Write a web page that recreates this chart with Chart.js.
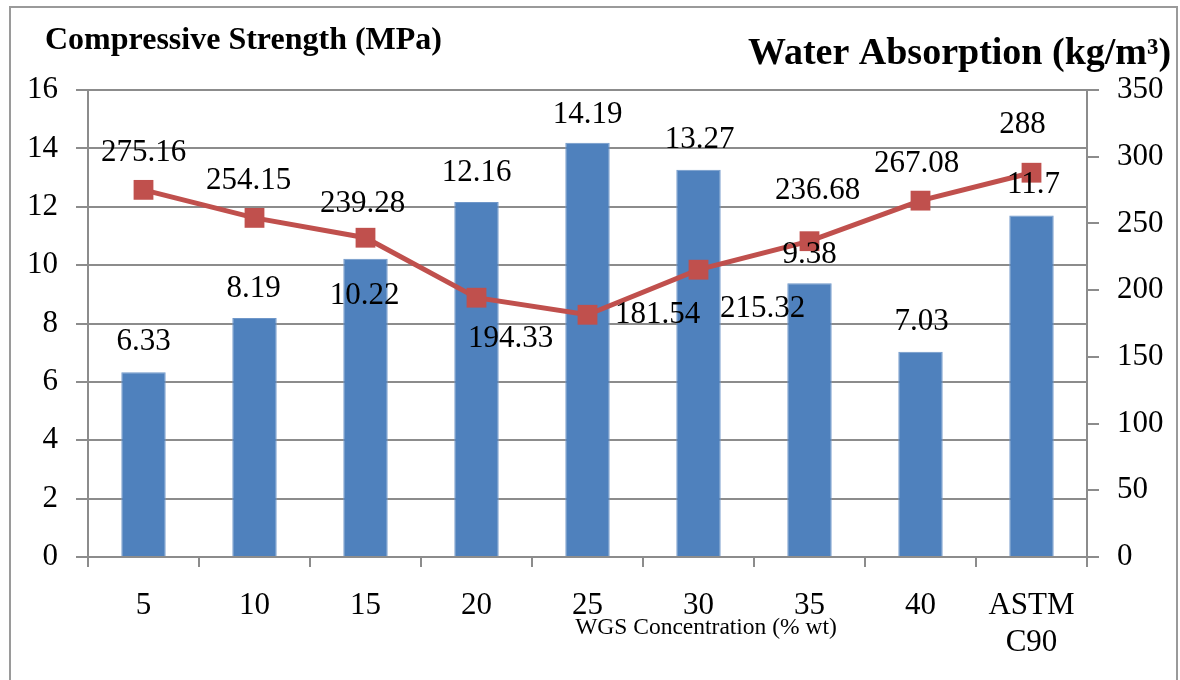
<!DOCTYPE html>
<html>
<head>
<meta charset="utf-8">
<script src="https://cdn.jsdelivr.net/npm/chart.js@4.4.1/dist/chart.umd.min.js"></script>
<style>
  html, body { margin: 0; padding: 0; background: #fff; }
  #wrap { width: 1180px; height: 680px; position: relative; }
</style>
</head>
<body>
<div id="wrap"><canvas id="grafico" width="1180" height="680"></canvas></div>
<script>
// datos
const categorias = ['5', '10', '15', '20', '25', '30', '35', '40', ['ASTM', 'C90']];
const resistencia = [6.33, 8.19, 10.22, 12.16, 14.19, 13.27, 9.38, 7.03, 11.7];
const absorcion = [275.16, 254.15, 239.28, 194.33, 181.54, 215.32, 236.68, 267.08, 288];
const ticksIzq = [0, 2, 4, 6, 8, 10, 12, 14, 16];
const ticksDer = [0, 50, 100, 150, 200, 250, 300, 350];

// desplazamiento de las etiquetas (px) respecto a la marca
const offBarras = [[0, -30], [-1, -29], [-1, 37], [0, -29], [0, -28], [1, -30], [0, -28], [1, -30], [2, -31]];
const offLinea = [[0, -37], [-6, -37], [-3, -34], [34, 41], [70, 0], [64, 39], [8, -50], [-4, -37], [-9, -48]];

const SERIF = '"Liberation Serif", "Times New Roman", serif';
const GRIS = '#8c8c8c';

const pluginExtras = {
    id: 'extras',
    beforeDraw(chart) {
        const ctx = chart.ctx;
        ctx.save();
        ctx.fillStyle = '#fff';
        ctx.fillRect(0, 0, chart.width, chart.height);
        ctx.strokeStyle = '#9a9a9a';
        ctx.lineWidth = 2;
        ctx.strokeRect(10, 7, 1167, 700);
        ctx.restore();
    },
    afterDatasetsDraw(chart) {
        const ctx = chart.ctx;
        ctx.save();
        ctx.font = '31px ' + SERIF;
        ctx.fillStyle = '#000';
        ctx.textAlign = 'center';
        ctx.textBaseline = 'middle';
        const mb = chart.getDatasetMeta(0);
        mb.data.forEach((el, i) => {
            ctx.fillText(String(resistencia[i]), el.x + offBarras[i][0], el.y + offBarras[i][1]);
        });
        const ml = chart.getDatasetMeta(1);
        ml.data.forEach((el, i) => {
            ctx.fillText(String(absorcion[i]), el.x + offLinea[i][0], el.y + offLinea[i][1]);
        });

        // titulos de los ejes
        ctx.textAlign = 'left';
        ctx.textBaseline = 'alphabetic';
        ctx.font = 'bold 32px ' + SERIF;
        ctx.fillText('Compressive Strength (MPa)', 45, 49);
        ctx.font = 'bold 38px ' + SERIF;
        ctx.fillText('Water Absorption (kg/m\u00B3)', 748, 64);

        ctx.textAlign = 'center';
        ctx.font = '23.5px ' + SERIF;
        ctx.fillText('WGS Concentration (% wt)', 706, 634);
        ctx.restore();
    }
};

const ctx = document.getElementById('grafico').getContext('2d');
const grafico = new Chart(ctx, {
    type: 'bar',
    data: {
        labels: categorias,
        datasets: [
            {
                type: 'bar',
                label: 'Compressive Strength',
                data: resistencia,
                backgroundColor: '#4F81BD',
                borderColor: '#6f97c9',
                borderWidth: 1,
                barPercentage: 0.4,
                categoryPercentage: 1,
                yAxisID: 'y',
                order: 2
            },
            {
                type: 'line',
                label: 'Water Absorption',
                data: absorcion,
                borderColor: '#C0504D',
                backgroundColor: '#C0504D',
                borderWidth: 5,
                pointStyle: 'rect',
                pointRadius: 14,
                pointBackgroundColor: '#C0504D',
                pointBorderColor: '#C0504D',
                pointBorderWidth: 0,
                tension: 0,
                yAxisID: 'y1',
                order: 1
            }
        ]
    },
    options: {
        responsive: false,
        animation: false,
        devicePixelRatio: 1,
        layout: { padding: { top: 90, left: 0, right: 0, bottom: 0 } },
        plugins: {
            legend: { display: false },
            tooltip: { enabled: false },
            title: { display: false }
        },
        scales: {
            x: {
                offset: true,
                grid: {
                    offset: true,
                    drawOnChartArea: false,
                    drawTicks: true,
                    tickLength: 10,
                    color: GRIS,
                    lineWidth: 2
                },
                border: { display: true, color: GRIS, width: 2 },
                ticks: {
                    font: { family: SERIF, size: 31 },
                    color: '#000',
                    padding: 20,
                    maxRotation: 0,
                    autoSkip: false
                },
                afterFit(scale) { scale.height = 123; }
            },
            y: {
                position: 'left',
                min: 0,
                max: 16,
                afterBuildTicks(scale) { scale.ticks = ticksIzq.map(v => ({ value: v })); },
                grid: {
                    color: GRIS,
                    lineWidth: 2,
                    tickLength: 12,
                    drawTicks: true
                },
                border: { display: true, color: GRIS, width: 2 },
                ticks: {
                    font: { family: SERIF, size: 31 },
                    color: '#000',
                    padding: 18
                },
                afterFit(scale) { scale.width = 88; }
            },
            y1: {
                position: 'right',
                min: 0,
                max: 350,
                afterBuildTicks(scale) { scale.ticks = ticksDer.map(v => ({ value: v })); },
                grid: {
                    drawOnChartArea: false,
                    color: GRIS,
                    lineWidth: 2,
                    tickLength: 12,
                    drawTicks: true
                },
                border: { display: true, color: GRIS, width: 2 },
                ticks: {
                    font: { family: SERIF, size: 31 },
                    color: '#000',
                    padding: 18
                },
                afterFit(scale) { scale.width = 93; }
            }
        }
    },
    plugins: [pluginExtras]
});
</script>
</body>
</html>
